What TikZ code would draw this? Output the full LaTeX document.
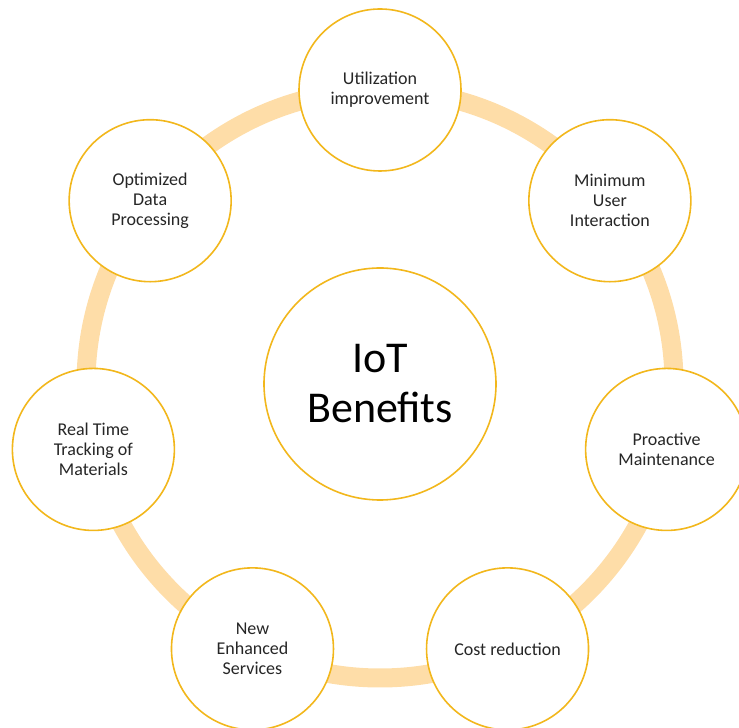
\documentclass[tikz,border=0pt]{standalone}
\usepackage{fontspec}
\setmainfont{Carlito}
\usetikzlibrary{calc}
\begin{document}
\begin{tikzpicture}[x=1pt,y=1pt,
  ringline/.style={draw=ringorange,line width=19pt},
  hub/.style={circle,draw=goldline,line width=1.6pt,fill=white,minimum size=232pt,inner sep=0pt,
    align=center,font=\fontsize{44}{50}\selectfont,text=black},
  benefit/.style={circle,draw=goldline,line width=1.6pt,fill=white,minimum size=162pt,inner sep=0pt,
    align=center,font=\fontsize{18}{20}\selectfont,text=textgray}]
\definecolor{ringorange}{HTML}{FEDDA8}
\definecolor{goldline}{HTML}{F2B71C}
\definecolor{textgray}{HTML}{262626}
\useasboundingbox (0,0) rectangle (739,728);
\clip (0,0) rectangle (739,728);
\coordinate (c) at (380,344);
% connecting ring behind the circles
\draw[ringline] (c) circle[radius=294];
% centre hub
\node[hub] (iot) at (c) {IoT\\Benefits};
% benefits around the ring
\node[benefit] (util) at ($(c)+(90:294)$) {Utilization\\improvement};
\node[benefit] (user) at ($(c)+(38.57:294)$) {Minimum\\User\\Interaction};
\node[benefit] (maint) at ($(c)+(-12.86:294)$) {Proactive\\Maintenance};
\node[benefit] (cost) at ($(c)+(-64.29:294)$) {Cost reduction};
\node[benefit] (serv) at ($(c)+(-115.71:294)$) {New\\Enhanced\\Services};
\node[benefit] (track) at ($(c)+(192.86:294)$) {Real Time\\Tracking of\\Materials};
\node[benefit] (data) at ($(c)+(141.43:294)$) {Optimized\\Data\\Processing};
\end{tikzpicture}
\end{document}
